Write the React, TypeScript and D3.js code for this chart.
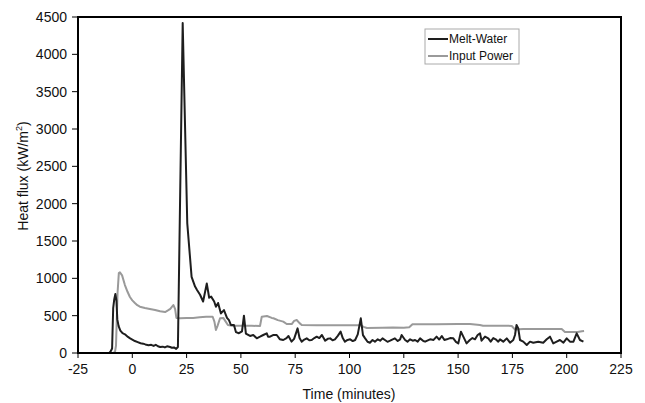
import React from "react";
import * as d3 from "d3";

const meltTime = [-12,-10.5,-10,-9.3,-8.8,-8.3,-7.8,-7.3,-6.9,-6.3,-5.5,-4.5,-3.4,-2,-1,0,1.2,2.5,3.8,5,6,7.5,8.7,9.8,10.8,11.8,12.8,14,15,16,17.4,18.2,19.2,20.2,21,23.2,25.3,27.3,28.9,29.8,31.2,32.6,34.3,35.4,36.3,37.7,38.5,39.5,40.8,42.2,43.6,44.5,45.4,46.8,47.7,49.1,50.5,51.4,52.3,54.2,55.7,57.3,58.8,60.3,61.9,62.5,63.4,64.8,66.5,67.9,69.5,71,71.9,73.3,74.5,76.1,77,78,79.2,80.3,81.5,82.6,83.8,84.9,86.1,87.3,88.8,90,91.1,92.2,93.3,94.6,95.9,96.9,97.9,99.1,100.3,101.5,102.6,103.8,105.2,106.2,107.2,108.3,109.4,110.6,111.7,113,114.1,115.2,116.3,117.5,118.7,119.9,120.9,122.2,123.3,124,125.6,126.7,127.9,129.1,130.2,131.4,132.5,134,134.8,137.1,138.7,140.1,141.3,142.5,143.7,144.8,146.3,147.8,149,150.1,151.3,152.4,153.9,155.4,156.6,157.8,159,160.1,160.8,162.4,163.9,165,166.2,167.3,168.5,169.3,170.8,172.4,173.9,175.4,176.2,176.9,177.7,178.5,180,181.6,183.1,184.6,186.9,189.2,190.8,192.3,193.8,195.4,196.9,198.5,200,201.5,203.1,204.6,206.1,207.7];
const meltValue = [0,5,20,60,600,720,790,700,450,360,300,265,250,215,195,180,160,145,130,125,115,105,110,95,110,90,80,85,75,90,80,70,75,55,80,4420,1740,1020,890,845,780,690,930,740,755,690,620,670,530,575,470,440,375,375,280,265,290,500,260,228,241,197,218,241,264,218,219,241,241,185,174,200,228,152,190,330,200,152,180,196,170,174,200,219,200,241,165,190,196,170,183,230,286,200,152,175,183,160,174,250,464,240,196,150,138,174,152,183,165,196,174,150,165,183,196,160,183,241,174,152,183,165,174,152,196,160,152,183,175,219,180,228,175,183,200,196,150,129,286,219,129,174,200,183,241,263,165,219,196,152,200,183,152,183,152,196,138,174,241,375,330,174,152,107,152,138,152,138,183,219,129,152,174,138,196,152,152,263,174,152];

const powerTime = [-12,-9,-8,-7.5,-6.8,-6.2,-5.7,-4.7,-3.4,-2.2,-1.1,0,1.2,2.3,3.5,5.8,8.1,10.5,12.8,15.1,16.4,17.5,18.9,19.7,20.3,22,25,28,31,34,37,37.8,38.5,39.2,40.4,41.9,43,44,46,50,55,58.8,59.6,62,64.2,65,67,69.5,71.1,73.4,74.5,75.7,77,78,85,95,105,106.5,108,115,120,125,127.5,129,140,150,155.5,160,161.5,172.4,174.7,176.2,180,190,197.7,199.2,205,207,208];
const powerValue = [0,0,10,100,800,1070,1080,1040,910,820,750,705,670,640,620,603,589,576,558,549,570,590,643,590,470,465,468,470,478,486,486,420,308,360,465,470,420,375,365,365,365,361,486,495,470,465,440,420,388,388,430,442,400,375,370,370,372,350,335,338,340,338,344,385,385,388,388,375,366,366,362,315,320,322,321,280,280,292,295];

const xTicks = [-25,0,25,50,75,100,125,150,175,200,225];
const yTicks = [0,500,1000,1500,2000,2500,3000,3500,4000,4500];
const seriesNames = ["Melt-Water", "Input Power"];
const seriesColors = ["#1e1e1e", "#9a9a9a"];

export default function App() {
  const W = 645, H = 403;
  const left = 78, right = 621, top = 17, bottom = 353;
  const x = d3.scaleLinear().domain([-25, 225]).range([left, right]);
  const y = d3.scaleLinear().domain([0, 4500]).range([bottom, top]);
  const line = d3.line<[number, number]>().x(d => x(d[0])).y(d => y(d[1]));
  const melt = meltTime.map((t, i) => [t, meltValue[i]] as [number, number]);
  const power = powerTime.map((t, i) => [t, powerValue[i]] as [number, number]);
  const font = "'Liberation Sans', Arial, sans-serif";
  return (
    <svg width={W} height={H} style={{ position: "absolute", left: 0, top: 0, background: "#fff" }} fontFamily={font}>
      <rect x={0} y={0} width={W} height={H} fill="#fff" />
      <path d={line(power) || ""} fill="none" stroke={seriesColors[1]} strokeWidth={2} strokeLinejoin="round" />
      <path d={line(melt) || ""} fill="none" stroke={seriesColors[0]} strokeWidth={2} strokeLinejoin="round" />
      <rect x={left} y={top} width={right - left} height={bottom - top} fill="none" stroke="#000" strokeWidth={2} />
      {yTicks.map(v => (
        <g key={"y" + v}>
          <line x1={left - 6} x2={left} y1={y(v)} y2={y(v)} stroke="#000" strokeWidth={1} />
          <text x={left - 11} y={y(v)} dy="0.35em" textAnchor="end" fontSize={14} fill="#111">{v}</text>
        </g>
      ))}
      {xTicks.map(v => (
        <g key={"x" + v}>
          <line x1={x(v)} x2={x(v)} y1={bottom} y2={bottom + 5} stroke="#000" strokeWidth={1} />
          <text x={x(v)} y={374} textAnchor="middle" fontSize={14} fill="#111">{v}</text>
        </g>
      ))}
      <text x={349} y={399} textAnchor="middle" fontSize={14} fill="#111">Time (minutes)</text>
      <text transform="translate(28,176) rotate(-90)" textAnchor="middle" fontSize={14} fill="#111">
        Heat flux (kW/m<tspan dy={-6} fontSize={9}>2</tspan><tspan dy={6}>)</tspan>
      </text>
      <rect x={425} y={29} width={94} height={35} fill="#fff" stroke="#aaa" strokeWidth={1} />
      {seriesNames.map((n, i) => (
        <g key={n}>
          <line x1={428} x2={448} y1={39 + i * 17} y2={39 + i * 17} stroke={seriesColors[i]} strokeWidth={2} />
          <text x={449} y={39 + i * 17} dy="0.35em" fontSize={12} fill="#111">{n}</text>
        </g>
      ))}
    </svg>
  );
}
